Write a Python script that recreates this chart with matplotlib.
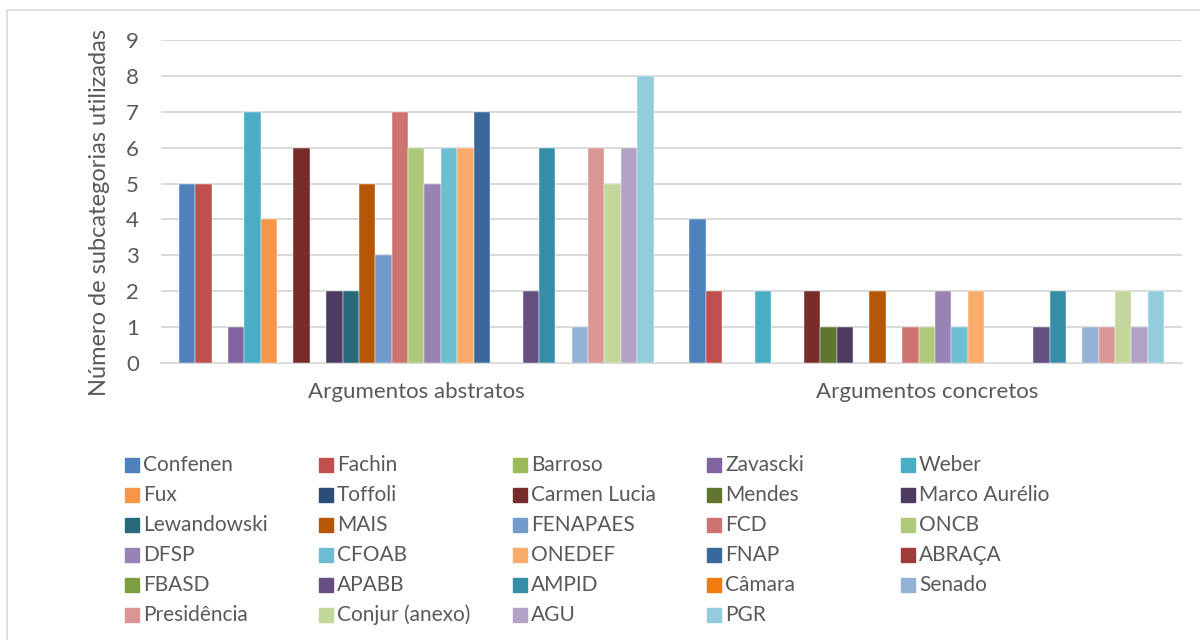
import matplotlib
matplotlib.use("Agg")
import matplotlib.pyplot as plt
from matplotlib.patches import Rectangle
import numpy as np

plt.rcParams["font.family"] = ["Lato", "DejaVu Sans"]

# Data
categories = ["Argumentos abstratos", "Argumentos concretos"]
series = ["Confenen", "Fachin", "Barroso", "Zavascki", "Weber",
          "Fux", "Toffoli", "Carmen Lucia", "Mendes", "Marco Aurélio",
          "Lewandowski", "MAIS", "FENAPAES", "FCD", "ONCB",
          "DFSP", "CFOAB", "ONEDEF", "FNAP", "ABRAÇA",
          "FBASD", "APABB", "AMPID", "Câmara", "Senado",
          "Presidência", "Conjur (anexo)", "AGU", "PGR"]
abstratos = [5, 5, 0, 1, 7, 4, 0, 6, 0, 2, 2, 5, 3, 7, 6, 5, 6, 6, 7, 0, 0, 2, 6, 0, 1, 6, 5, 6, 8]
concretos = [4, 2, 0, 0, 2, 0, 0, 2, 1, 1, 0, 2, 0, 1, 1, 2, 1, 2, 0, 0, 0, 1, 2, 0, 1, 1, 2, 1, 2]
colors = ["#4F81BD", "#C0504D", "#9BBB59", "#8064A2", "#4BACC6",
          "#F79646", "#2C4D75", "#772C2A", "#5F7530", "#4D3B62",
          "#276A7C", "#B65708", "#729ACA", "#CD7371", "#AFC97A",
          "#9983B5", "#6FBDD1", "#F9AB6B", "#3A679C", "#9F3B38",
          "#7E9C40", "#664F83", "#358EA6", "#F47A10", "#95B3D7",
          "#D99694", "#C3D69B", "#B3A2C7", "#93CDDD"]

text_color = "#595959"
grid_color = "#D9D9D9"

fig = plt.figure(figsize=(12, 6.4), dpi=100)
ax = fig.add_axes([161 / 1200, 1 - 363 / 640, 1021 / 1200, 323 / 640])

x = np.arange(len(categories))
n = len(series)
w = 1 / (n + 2.19)
for i, name in enumerate(series):
    vals = [abstratos[i], concretos[i]]
    ax.bar(x + (i - (n - 1) / 2) * w, vals, width=w, color=colors[i],
           edgecolor="white", linewidth=0.3, label=name, zorder=3)

ax.set_xlim(-0.5, 1.5)
ax.set_ylim(0, 9)
ax.set_yticks(range(10))
ax.set_xticks(x)
ax.set_xticklabels(categories)
ax.yaxis.grid(True, color=grid_color, linewidth=1.4, zorder=0)
ax.set_axisbelow(True)
for s in ["top", "right", "left"]:
    ax.spines[s].set_visible(False)
ax.spines["bottom"].set_color(grid_color)
ax.spines["bottom"].set_linewidth(1.4)
ax.tick_params(axis="both", length=0, labelsize=16, colors=text_color)
ax.tick_params(axis="y", pad=16)
ax.tick_params(axis="x", pad=14)
ax.set_ylabel("Número de subcategorias utilizadas", fontsize=17,
              color=text_color)
ax.yaxis.set_label_coords(-0.05, 0.465)

# legend laid out row by row, like the original
x0, y0 = 125 / 1200, 1 - 465 / 640
dx, dy = 194 / 1200, 30 / 640
sq_w, sq_h = 14 / 1200, 14 / 640
for i, name in enumerate(series):
    r, c = divmod(i, 5)
    lx = x0 + c * dx
    ly = y0 - r * dy
    fig.patches.append(Rectangle((lx, ly - sq_h / 2), sq_w, sq_h,
                                 transform=fig.transFigure, color=colors[i]))
    fig.text(lx + 18 / 1200, ly, name, fontsize=15, color=text_color,
             va="center", ha="left")

# chart area border
fig.patches.append(Rectangle((7 / 1200, -0.1), 1.2, 1.1 - 10 / 640,
                             transform=fig.transFigure, fill=False,
                             edgecolor=grid_color, linewidth=1.2))

fig.savefig("out.png", dpi=100)
